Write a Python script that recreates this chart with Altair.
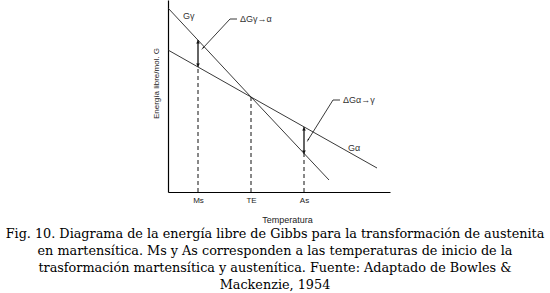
import altair as alt
import pandas as pd

# --- data (arbitrary temperature / energy units) ---
g_gamma_T = [0, 83, 161]
g_gamma_G = [184, 95, 12]
g_alpha_T = [0, 83, 209]
g_alpha_G = [142, 95, 24]

temp_names = ["Ms", "TE", "As"]
temp_vals = [30, 83, 136]
dash_top = [125, 95, 38]          # dashed guide ends

arrow_T = [30, 136]
arrow_lo = [125, 38]
arrow_hi = [152, 65]

lead1_T = [69, 62, 35]
lead1_G = [173, 173, 144]
lead2_T = [172, 165, 140]
lead2_G = [92, 92, 52]

label_text = ["Gγ", "ΔGγ→α", "ΔGα→γ", "Gα"]
label_T = [15, 72, 175, 180]
label_G = [176, 173, 92, 44]

caption = [
    "Fig. 10. Diagrama de la energía libre de Gibbs para la transformación de austenita",
    "en martensítica. Ms y As corresponden a las temperaturas de inicio de la",
    "trasformación martensítica y austenítica. Fuente: Adaptado de Bowles &",
    "Mackenzie, 1954",
]

# --- tables ---
curves = pd.DataFrame(
    {"T": g_gamma_T + g_alpha_T,
     "G": g_gamma_G + g_alpha_G,
     "s": ["Gγ"] * len(g_gamma_T) + ["Gα"] * len(g_alpha_T)}
)
dashes = pd.DataFrame({"T": temp_vals, "lo": [0, 0, 0], "hi": dash_top, "n": temp_names})
arrows = pd.DataFrame({"T": arrow_T, "lo": arrow_lo, "hi": arrow_hi})
heads_up = pd.DataFrame({"T": arrow_T, "G": [h - 2 for h in arrow_hi]})
heads_dn = pd.DataFrame({"T": arrow_T, "G": [l + 2 for l in arrow_lo]})
leaders = pd.DataFrame(
    {"T": lead1_T + lead2_T, "G": lead1_G + lead2_G,
     "k": ["a"] * 3 + ["b"] * 3, "o": [0, 1, 2] * 2}
)
tips = pd.DataFrame({"T": [lead1_T[-1], lead2_T[-1]], "G": [lead1_G[-1], lead2_G[-1]],
                     "ang": [223, 212]})
labels = pd.DataFrame({"t": label_text, "T": label_T, "G": label_G})

xs = alt.Scale(domain=[0, 222], nice=False, zero=False)
ys = alt.Scale(domain=[0, 192], nice=False, zero=False)

label_expr = "datum.value == 30 ? 'Ms' : datum.value == 83 ? 'TE' : datum.value == 136 ? 'As' : ''"

base_x = alt.X("T:Q", scale=xs,
               axis=alt.Axis(values=temp_vals, labelExpr=label_expr, ticks=False, grid=False,
                             domainColor="#000", domainWidth=1.2, labelFont="Liberation Sans",
                             labelFontSize=8, labelColor="#222", labelPadding=4,
                             title="Temperatura", titleFont="Liberation Sans",
                             titleFontSize=9, titleFontWeight="normal", titleColor="#222",
                             titleX=119, titleY=27, titleBaseline="middle"))
base_y = alt.Y("G:Q", scale=ys,
               axis=alt.Axis(labels=False, ticks=False, grid=False, domainColor="#000",
                             domainWidth=1.2, title="Energía libre/mol. G",
                             titleFont="Liberation Sans", titleFontSize=8,
                             titleFontWeight="normal", titleColor="#222", titlePadding=8,
                             titleY=83))

lines = alt.Chart(curves).mark_line(color="#222", strokeWidth=0.9).encode(
    x=base_x, y=base_y, detail="s:N")

guides = alt.Chart(dashes).mark_rule(color="#111", strokeWidth=1, strokeDash=[4, 3]).encode(
    x=alt.X("T:Q", scale=xs), y=alt.Y("lo:Q", scale=ys), y2="hi:Q")

arrow_rules = alt.Chart(arrows).mark_rule(color="#111", strokeWidth=1.3).encode(
    x=alt.X("T:Q", scale=xs), y=alt.Y("lo:Q", scale=ys), y2="hi:Q")

up = alt.Chart(heads_up).mark_point(shape="triangle-up", filled=True, size=14,
                                    color="#111", opacity=1).encode(
    x=alt.X("T:Q", scale=xs), y=alt.Y("G:Q", scale=ys))
dn = alt.Chart(heads_dn).mark_point(shape="triangle-down", filled=True, size=14,
                                    color="#111", opacity=1).encode(
    x=alt.X("T:Q", scale=xs), y=alt.Y("G:Q", scale=ys))

lead = alt.Chart(leaders).mark_line(color="#222", strokeWidth=0.9).encode(
    x=alt.X("T:Q", scale=xs), y=alt.Y("G:Q", scale=ys), detail="k:N", order="o:Q")

tip = alt.Chart(tips).mark_point(shape="wedge", filled=True, size=22, color="#111",
                                 opacity=1).encode(
    x=alt.X("T:Q", scale=xs), y=alt.Y("G:Q", scale=ys), angle=alt.Angle("ang:Q", scale=None))

txt = alt.Chart(labels).mark_text(align="left", baseline="middle", font="Liberation Sans",
                                  fontSize=9, color="#333").encode(
    x=alt.X("T:Q", scale=xs), y=alt.Y("G:Q", scale=ys), text="t:N")

chart = alt.layer(lines, guides, arrow_rules, up, dn, lead, tip, txt).properties(
    width=222, height=192,
    padding={"left": 168, "top": 0, "right": 160, "bottom": 101},
    autosize=alt.AutoSizeParams(type="none"),
    background="white",
    title=alt.TitleParams(text=caption, orient="bottom", anchor="middle", font="DejaVu Serif",
                          fontSize=12.8, fontWeight="normal", color="#000", lineHeight=17,
                          offset=4, dx=-4),
).configure_view(stroke=None)

chart.save("out.html", embed_options={"renderer": "svg", "actions": False})
